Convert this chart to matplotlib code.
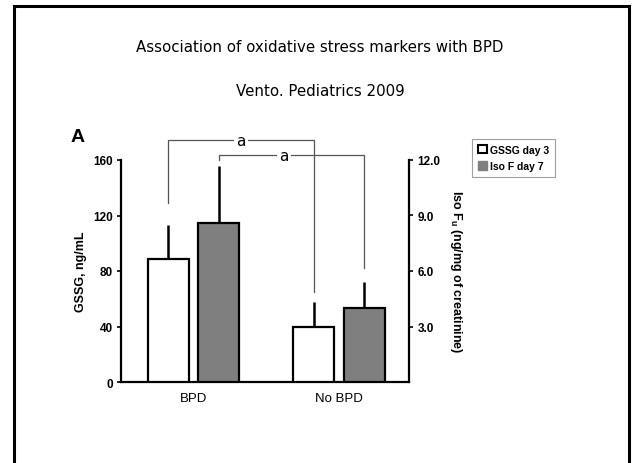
import matplotlib
matplotlib.use("Agg")
import matplotlib.pyplot as plt
import matplotlib.patches as mpatches
import numpy as np

groups = ["BPD", "No BPD"]
gssg_mean = [89, 39.5]
gssg_sd = [24, 18.5]
iso_mean = [8.6, 4.0]
iso_sd = [3.1, 1.4]
left_ticks = [0, 40, 80, 120, 160]
right_ticks = [3.0, 6.0, 9.0, 12.0]

W, H = 632, 464
fig = plt.figure(figsize=(W / 100, H / 100), dpi=100)
fig.patch.set_facecolor("white")

def fx(px):
    return px / W

def fy(py):
    return 1 - py / H

ax = fig.add_axes([fx(121), fy(383), fx(409) - fx(121), fy(161) - fy(383)])
ax2 = ax.twinx()

x = np.arange(len(groups))
off = 0.172
bw = 0.282
tick_font = dict(family=["Liberation Sans Narrow", "Liberation Sans", "DejaVu Sans"], weight="bold", size=8.5)

ax.bar(x - off, gssg_mean, bw, color="white", edgecolor="black", linewidth=1.6, zorder=3)
ax.errorbar(x - off, gssg_mean, yerr=[np.zeros(len(x)), gssg_sd], fmt="none",
            ecolor="black", elinewidth=1.8, capsize=0, zorder=2)
ax2.bar(x + off, iso_mean, bw, color="#7f7f7f", edgecolor="black", linewidth=1.6, zorder=3)
ax2.errorbar(x + off, iso_mean, yerr=[np.zeros(len(x)), iso_sd], fmt="none",
             ecolor="black", elinewidth=1.8, capsize=0, zorder=2)

ax.set_xlim(-0.498, 1.481)
ax.set_ylim(0, 160)
ax2.set_ylim(0, 12)

for a in (ax, ax2):
    a.spines["top"].set_visible(False)
    for s in a.spines.values():
        s.set_linewidth(1.6)
ax.spines["right"].set_visible(False)
ax2.spines["left"].set_visible(False)
ax2.spines["bottom"].set_visible(False)
ax2.spines["right"].set_bounds(0, 12)

ax.set_yticks(left_ticks)
ax.set_yticklabels([str(t) for t in left_ticks], **tick_font)
ax.tick_params(axis="y", length=3, width=1.2, pad=3)
ax2.set_yticks(right_ticks)
ax2.set_yticklabels([f"{t:.1f}" for t in right_ticks], **tick_font)
ax2.tick_params(axis="y", length=3, width=1.2, pad=3)

ax.set_xticks(x)
ax.set_xticklabels(groups, family=["Liberation Sans", "DejaVu Sans"], size=9.5)
ax.tick_params(axis="x", length=0, pad=7)

ax.set_ylabel("GSSG, ng/mL", family=["Liberation Sans", "DejaVu Sans"], weight="bold", size=9, labelpad=4)
ax2.set_ylabel("Iso F$_\\mathregular{u}$ (ng/mg of creatinine)", family=["Liberation Sans", "DejaVu Sans"],
               weight="bold", size=9, rotation=270, labelpad=17)

# significance brackets
lc = "#555555"
ax.plot([-off, -off, 1 - off, 1 - off], [129, 174.3, 174.3, 64.6], color=lc, lw=0.9, clip_on=False, zorder=1)
ax.text(0.328, 174.3, "a", ha="center", va="center", size=11, family="DejaVu Sans",
        bbox=dict(facecolor="white", edgecolor="none", pad=1.5), clip_on=False, zorder=4)
ax.plot([off, off, 1 + off, 1 + off], [160, 163.6, 163.6, 82.5], color=lc, lw=0.9, clip_on=False, zorder=1)
ax.text(0.62, 163.6, "a", ha="center", va="center", size=11, family="DejaVu Sans",
        bbox=dict(facecolor="white", edgecolor="none", pad=1.5), clip_on=False, zorder=4)

# legend
h1 = mpatches.Patch(facecolor="white", edgecolor="black", linewidth=1.5, label="GSSG day 3")
h2 = mpatches.Patch(facecolor="#7f7f7f", edgecolor="#7f7f7f", label="Iso F day 7")
leg = fig.legend(handles=[h1, h2], loc="upper left", bbox_to_anchor=(fx(472), fy(140)),
                 prop=dict(family=["Liberation Sans Narrow", "Liberation Sans"], weight="bold", size=7.5),
                 frameon=True, fancybox=False, edgecolor="#888888", handlelength=0.9, handleheight=0.9,
                 handletextpad=0.3, borderpad=0.55, labelspacing=0.6, borderaxespad=0)
leg.get_frame().set_linewidth(0.8)

fig.text(fx(78), fy(138), "A", ha="center", va="center", size=14, weight="bold",
         family=["Liberation Sans", "DejaVu Sans"])

fig.text(fx(320), fy(48), "Association of oxidative stress markers with BPD", ha="center", va="center",
         size=10.8, family="DejaVu Sans")
fig.text(fx(320), fy(92), "Vento. Pediatrics 2009", ha="center", va="center",
         size=10.8, family="DejaVu Sans")

frame = mpatches.Rectangle((fx(14), -0.1), fx(629) - fx(14), fy(7) + 0.1, transform=fig.transFigure,
                           fill=False, edgecolor="black", linewidth=2.2, clip_on=False)
fig.patches.append(frame)

fig.savefig("out.png", dpi=100, facecolor="white")
